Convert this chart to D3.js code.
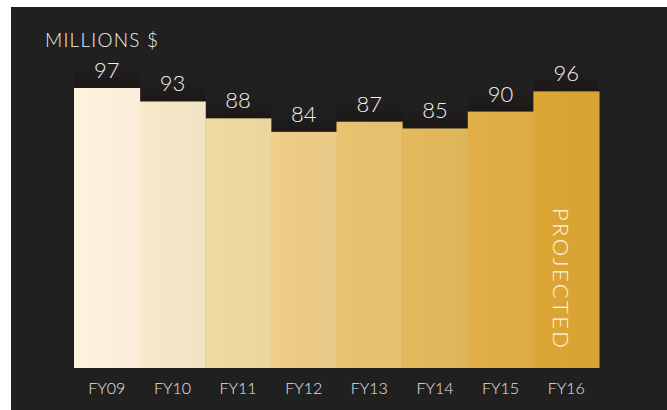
<!DOCTYPE html>
<html>
<head>
<meta charset="utf-8">
<script src="https://cdn.jsdelivr.net/npm/d3@7"></script>
<style>
  html, body { margin: 0; padding: 0; background: #ffffff; }
  svg { display: block; }
  text { font-family: Lato, "Open Sans", sans-serif; }
</style>
</head>
<body>
<svg id="chart" width="667" height="410"></svg>
<script>
// Annual budget, millions of dollars (FY16 is a projection)
const years = ["FY09", "FY10", "FY11", "FY12", "FY13", "FY14", "FY15", "FY16"];
const values = [97, 93, 88, 84, 87, 85, 90, 96];
const projectedYear = "FY16";
const unitLabel = "MILLIONS $";
const projectedLabel = "PROJECTED";

// cream-to-gold palette, one shade per year
const palette = ["#fcefdc", "#f5e5c6", "#eed79f", "#ebca88", "#e6c06f", "#e0b75b", "#deac47", "#d9a434"];

const svg = d3.select("#chart");
const W = 667, H = 410;

// dark panel with a thin white margin on the top and left
svg.append("rect").attr("x", 11).attr("y", 7).attr("width", W - 11).attr("height", H - 7)
  .attr("fill", "#212020");

const margin = { left: 74, right: 68, top: 88, bottom: 42 };
const x = d3.scaleBand().domain(years).range([margin.left, W - margin.right]).padding(0);
const y = d3.scaleLinear().domain([14, 97]).range([H - margin.bottom, margin.top]);

const defs = svg.append("defs");
years.forEach((yr, i) => {
  const base = d3.color(palette[i]);
  const g = defs.append("linearGradient").attr("id", "grad" + i)
    .attr("x1", "0").attr("x2", "1").attr("y1", "0").attr("y2", "0");
  g.append("stop").attr("offset", "0").attr("stop-color", base.brighter(0.05));
  g.append("stop").attr("offset", "0.5").attr("stop-color", base);
  g.append("stop").attr("offset", "1").attr("stop-color", base.darker(0.02));
});
const shade = defs.append("linearGradient").attr("id", "shade")
  .attr("x1", "0").attr("x2", "0").attr("y1", "0").attr("y2", "1");
shade.append("stop").attr("offset", "0").attr("stop-color", "#140b0b").attr("stop-opacity", 0);
shade.append("stop").attr("offset", "1").attr("stop-color", "#140b0b").attr("stop-opacity", 0.4);

const data = years.map((yr, i) => ({ year: yr, value: values[i], i }));

// faint dark band above each bar top, behind the value label
svg.append("g").selectAll("rect").data(data).join("rect")
  .attr("x", d => x(d.year))
  .attr("width", x.bandwidth())
  .attr("y", d => y(d.value) - 24)
  .attr("height", 24)
  .attr("fill", "url(#shade)");

// bars
svg.append("g").selectAll("rect").data(data).join("rect")
  .attr("x", d => x(d.year))
  .attr("width", x.bandwidth() + 0.5)
  .attr("y", d => y(d.value))
  .attr("height", d => y.range()[0] - y(d.value))
  .attr("fill", d => `url(#grad${d.i})`);

// value labels
svg.append("g").selectAll("text").data(data).join("text")
  .attr("x", d => x(d.year) + x.bandwidth() / 2)
  .attr("y", d => y(d.value) - 10)
  .attr("text-anchor", "middle")
  .attr("fill", "#f3f1ee")
  .attr("font-size", 22)
  .attr("font-weight", 300)
  .text(d => d.value);

// category axis
const xAxis = svg.append("g")
  .attr("transform", `translate(0,${H - margin.bottom})`)
  .call(d3.axisBottom(x).tickSize(0).tickPadding(15));
xAxis.select(".domain").remove();
xAxis.selectAll("text")
  .attr("fill", "#e8e6e4")
  .attr("font-size", 16)
  .attr("font-family", "Lato, sans-serif")
  .attr("font-weight", 300);

// unit label
svg.append("text")
  .attr("x", 45).attr("y", 47)
  .attr("fill", "#f3f1ee")
  .attr("font-size", 19)
  .attr("font-weight", 300)
  .attr("textLength", 113)
  .text(unitLabel);

// vertical projection note inside the last bar
const px = x(projectedYear) + x.bandwidth() / 2 - 5;
svg.append("text")
  .attr("transform", `translate(${px},${278}) rotate(90)`)
  .attr("text-anchor", "middle")
  .attr("dy", "0.35em")
  .attr("fill", "#fff4dc")
  .attr("font-size", 22)
  .attr("font-weight", 300)
  .attr("textLength", 140)
  .text(projectedLabel);
</script>
</body>
</html>
